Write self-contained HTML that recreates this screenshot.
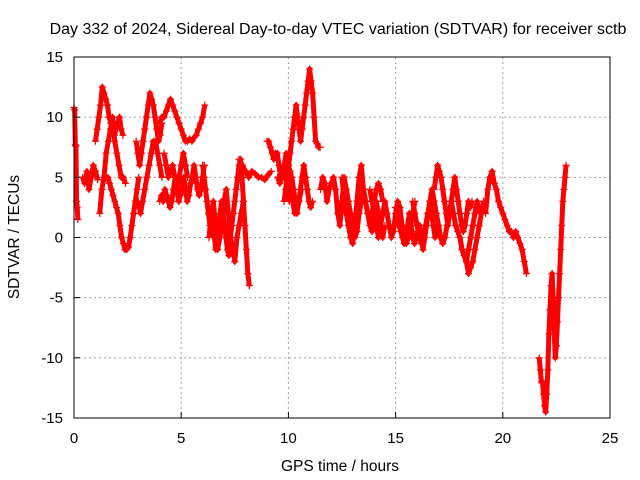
<!DOCTYPE html>
<html><head><meta charset="utf-8"><style>
body{margin:0;background:#fff}
svg{display:block;font-family:"Liberation Sans",sans-serif}
</style></head><body>
<svg id="c" width="640" height="480" viewBox="0 0 640 480">
<rect width="640" height="480" fill="#fff"/>
<g id="grid"></g>
<g id="marks"></g>
<rect x="74" y="57" width="536" height="361" fill="none" stroke="#000"/>
<g id="ticks"></g>
<text x="338" y="34" font-size="16" text-anchor="middle">Day 332 of 2024, Sidereal Day-to-day VTEC variation (SDTVAR) for receiver sctb</text>
<text x="340" y="471" font-size="15.5" text-anchor="middle">GPS time / hours</text>
<text transform="translate(19,237) rotate(-90)" font-size="15.5" text-anchor="middle">SDTVAR / TECUs</text>
</svg>
<script>
const xTicks=[0,5,10,15,20,25];
const yTicks=[-15,-10,-5,0,5,10,15];
const trackStarts=[0.0,0.4,1.0,1.2,1.5,2.9,3.0,4.0,4.0,4.2,6.0,6.3,7.7,9.0,9.8,10.0,9.5,11.5,12.5,13.8,15.0,15.8,16.8,17.0,18.0,19.2,21.7];
const trackSteps=[0.03,0.1,0.08,0.1,0.08,0.08,0.1,0.1,0.08,0.1,0.068,0.1,0.15,0.08,0.07,0.08,0.1,0.1,0.1,0.1,0.08,0.1,0.08,0.1,0.1,0.1,0.05];
const trackValues=[
[10.8,10.6,7.7,7.6,3,2.5,1.5],
[5,4.5,5.5,4,5,6,5.5,4.8],
[8,9,10,11,12.5,12,11.5,11,10,9.5,9,8.5,9,9.5,10,9,8.5],
[2,4,5,7,8,9,10,8,7,6,5,5,4.5],
[5,5,4.5,4,3.5,3,2.5,2,1,0,-0.5,-1,-1,-0.8,0,1,2,3,4,5],
[8,7,6,7,8,9,10,11,12,11.5,11,10,9,8,8.5,9.5],
[3,2,3,4,5,6,7,8,8,7,6,5],
[9.5,10,10,10.5,11,11.5,11,10.5,10,9.5,9,8.5,8,8,8.2,8,8.3,8.5,9,9.5,10,11],
[3,3.5,3,4,3.5,3,2.5,3,4,5,4,3,3.5,4,5,4,3,3.5,4.5,5,6,5,4,3.5,4,5,6],
[7,6,5,5.5,6,5,4,5,6,7,6,5],
[6,5,4,3,2,1,2,1,0,-1,0,1,2,3,2,1,0,-1,-1.5,0,1,2,3,4,5,6,6.5,5,3,1,-1,-3,-4],
[0,2,3,1,-1,0,1,3,4,2,0,-1,-2,0,1,2,3],
[6.5,6,5.5,5,5.5,5.3,5,5,4.8,5.2,5.5],
[8,8,7.5,7,6.5,7,7,6,5,5.5,6,5,4,3],
[3,4,5,6,7,8,9,10,11,10,9,8,9,10,11,12,13,14,13,12,10,8,7.8,7.5,7.5],
[6,5.5,5,4,3,2,3,4,5,6,5,4,3,2.5,3],
[5,4.5,5,6,7,5,4,3,2,2.5,3,4],
[4,5,4.5,3,4,4.5,5,4,2,1,3,5,4,3,2,1,0,0.5,2,3,4,3,2,1.5,2,3,4,4.5,4,3],
[5,3,2,1,0,-0.5,1,3,5,6,4,3,2,1,0.5,1.5,3,2,1,0,1],
[4,3,2,1,0,1,2,3,2,1,0,0.5,2,3,2.5,1,0,-0.5,0,1,2,3],
[2.5,2,1,0.5,0,-0.5,0,1,2,1,0,-0.5,0,0.5,1,0,-1,0,1,2,3,2,1,0,0.5,1],
[3,2,1,0,-0.5,0,1,2,3,4,3,2,1,0,-0.5],
[4,5,6,5.5,5,4,3,2,1,2,3,4,5,4,3,2,1,0.5,1,2,3,2.5,3],
[1,0,-0.5,0,1,2,3,2,1,0.5,0,-1,-1.5,-2,-1,0,1,2,3,2],
[0,-1,-1.5,-2,-3,-2.5,-2,-1,0,1,2,3],
[2,4,5,5.5,4.5,4,3,2.5,2,1.5,1,0.5,0.5,0,0.5,0,-0.5,-1,-2,-3],
[-10,-11,-12,-12,-13,-14,-14.5,-13,-11,-8,-6,-4,-3,-5,-8,-10,-9,-7,-5,-3,-1,1,3,4,5,6]
];
const NS="http://www.w3.org/2000/svg";
const X=t=>74+t*536/25, Y=v=>237.5-v*361/30;
const grid=document.getElementById('grid'),ticks=document.getElementById('ticks'),marks=document.getElementById('marks');
function el(n,a,p){const e=document.createElementNS(NS,n);for(const k in a)e.setAttribute(k,a[k]);p.appendChild(e);return e;}
xTicks.forEach(t=>{
 if(t>0&&t<25){const g=el('line',{x1:X(t),x2:X(t),y1:57,y2:418,stroke:'#a0a0a0','stroke-dasharray':'2,3'},grid);
 
 }
 const k=el('line',{x1:X(t),x2:X(t),y1:418,y2:412,stroke:'#000'},ticks);
 
 
 const l=el('text',{x:X(t),y:443,'font-size':15,'text-anchor':'middle'},ticks);l.textContent=t;
 
 
});
yTicks.forEach(v=>{
 if(v>-15&&v<15){const g=el('line',{x1:74,x2:610,y1:Y(v),y2:Y(v),stroke:'#a0a0a0','stroke-dasharray':'2,3'},grid);
 
 }
 const k=el('line',{x1:74,x2:80,y1:Y(v),y2:Y(v),stroke:'#000'},ticks);
 
 
 const l=el('text',{x:63,y:Y(v)+5,'font-size':15,'text-anchor':'end'},ticks);l.textContent=v;
 
 
});
trackValues.forEach((vals,i)=>{
 const pts=vals.map((v,j)=>[X(trackStarts[i]+j*trackSteps[i]),Y(v)]);
 const pl=el('polyline',{points:pts.map(p=>p.join(',')).join(' '),fill:'none',stroke:'#f00','stroke-width':5,'stroke-linejoin':'round'},marks);
 
 
 pts.forEach(p=>{
  const m=el('path',{d:`M${p[0]-3.5},${p[1]}h7M${p[0]},${p[1]-3.5}v7`,stroke:'#f00','stroke-width':1.3},marks);
  
  
 });
});
</script>
</body></html>
